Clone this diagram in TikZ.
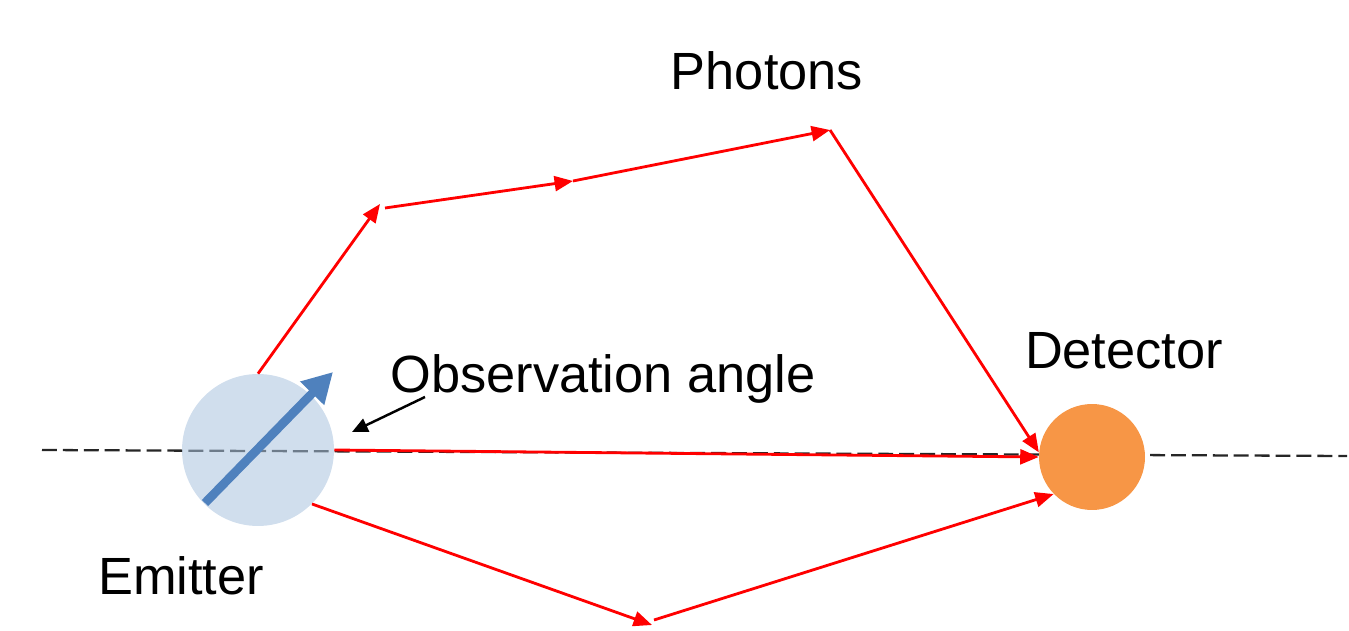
\documentclass[tikz,border=0pt]{standalone}
\usepackage{fontspec}
\setmainfont{Liberation Sans}
\usetikzlibrary{arrows.meta,positioning,calc}
\definecolor{emitblue}{HTML}{AAC3DE}
\definecolor{spinblue}{HTML}{4F81BD}
\definecolor{detorange}{HTML}{F79646}
\tikzset{
  photon/.style={draw=red,line width=1.6pt,-{Triangle[length=10.5pt,width=8.5pt]}},
  bigtext/.style={font=\fontsize{29.8}{35}\selectfont,anchor=base,inner sep=0pt},
}

\begin{document}
\begin{tikzpicture}[x=0.02cm,y=-0.02cm]
  \useasboundingbox (0,0) rectangle (1349,631);
  % axis
  \coordinate (axl) at (42,450);
  \coordinate (axr) at (1347,456);
  \draw[dash pattern=on 8.5pt off 3.4pt,line width=1.3pt,black!85] (axl) -- (axr);
  % emitter / detector
  \node[circle,fill=emitblue,fill opacity=0.55,minimum size=3.04cm,inner sep=0pt] (emit) at (258,450) {};
  \node[circle,fill=detorange,minimum size=2.12cm,inner sep=0pt] (det) at (1092,457) {};
  % photon paths
  \coordinate (up1) at (380,204);
  \coordinate (up1b) at (385,208);
  \coordinate (up2) at (573,181);
  \coordinate (up3) at (830,130);
  \coordinate (lo1) at (652,625);
  \coordinate (lo1b) at (654,620);
  \draw[photon] (emit.north) -- (up1);
  \draw[photon] (up1b) -- (up2);
  \draw[photon] (up2) -- (up3);
  \draw[photon] (up3) -- (det.175);
  \draw[photon] (emit.east) -- (det.west);
  \draw[photon] (emit.-45) -- (lo1);
  \draw[photon] (lo1b) -- (det.-136);
  % spin
  \draw[spinblue,line width=5pt,-{Triangle[length=17pt,width=18pt]}] (205,503) -- (333,372);
  % angle pointer
  \coordinate (obs) at (425,397);
  \coordinate (obstip) at (352,432);
  \draw[line width=1.4pt,-{Triangle[length=9pt,width=8pt]}] (obs) -- (obstip);
  % labels
  \node[bigtext] (photons) at (767,90) {Photons};
  \node[bigtext] (emitlbl) at (181,594) {Emitter};
  \node[bigtext] (detlbl) at (1124,369) {Detector};
  \node[bigtext] (obslbl) at (603,393) {Observation angle};
\end{tikzpicture}
\end{document}
